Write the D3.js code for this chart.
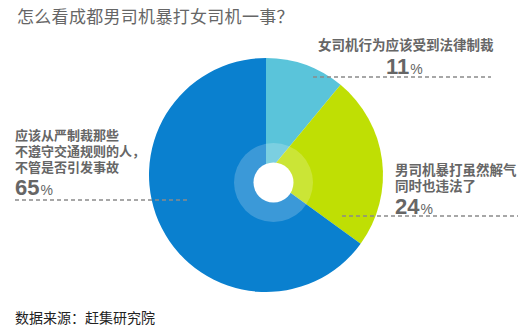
<!DOCTYPE html>
<html>
<head>
<meta charset="utf-8">
<script src="https://cdn.jsdelivr.net/npm/d3@7/dist/d3.min.js"></script>
<style>
  html, body { margin: 0; padding: 0; background: #fff; }
  svg { display: block; }
  text { font-family: "Noto Sans CJK SC", "Noto Sans", sans-serif; }
  text.lbl { font-family: "Liberation Sans", "Noto Sans CJK SC", sans-serif; }
</style>
</head>
<body>
<svg id="chart" width="522" height="333"></svg>
<script>
// Survey answers, in clockwise order from 12 o'clock
const categories = ["女司机行为应该受到法律制裁", "男司机暴打虽然解气同时也违法了", "应该从严制裁那些不遵守交通规则的人，不管是否引发事故"];
const values = [11, 24, 65];
const colors = ["#5ac4da", "#bfdf04", "#0a80cf"];
const labelLines = [
  ["女司机行为应该受到法律制裁"],
  ["男司机暴打虽然解气", "同时也违法了"],
  ["应该从严制裁那些", "不遵守交通规则的人，", "不管是否引发事故"]
];
const title = "怎么看成都男司机暴打女司机一事？";
const source = "数据来源：赶集研究院";

const svg = d3.select("#chart");
const cx = 266, cy = 175, radius = 117;

svg.append("text")
  .attr("x", 17).attr("y", 23)
  .attr("font-size", 17).attr("fill", "#666")
  .attr("letter-spacing", 0.3)
  .text(title);

const pie = d3.pie().sort(null).value(d => d)(values);
const arc = d3.arc().innerRadius(0).outerRadius(radius);

const g = svg.append("g").attr("transform", `translate(${cx},${cy})`);
g.selectAll("path").data(pie).join("path")
  .attr("d", arc)
  .attr("fill", (d, i) => colors[i]);

// translucent ring and white hub
const hub = svg.append("g").attr("transform", "translate(273.5,182.5)");
hub.append("circle").attr("r", 39.5).attr("fill", "#fff").attr("fill-opacity", 0.2);
hub.append("circle").attr("r", 20).attr("fill", "#fff");

// label blocks: anchor position, line height, font size, leader line extent
const labelLayout = [
  { x: 318, y: 50, lh: 16, fs: 13.5, pctX: 386, pctY: 74, lineY: 77, x1: 313, x2: 491 },
  { x: 395, y: 175, lh: 15.5, fs: 13.5, pctX: 395, pctY: 213.5, lineY: 216, x1: 342, x2: 518 },
  { x: 15, y: 140, lh: 16, fs: 13, pctX: 15, pctY: 195, lineY: 200, x1: 15, x2: 190 }
];

labelLayout.forEach((L, i) => {
  const grp = svg.append("g");
  grp.append("line")
    .attr("x1", L.x1).attr("x2", L.x2)
    .attr("y1", L.lineY).attr("y2", L.lineY)
    .attr("stroke", "#8a8a8a").attr("stroke-width", 1.3)
    .attr("stroke-dasharray", "4,3");
  labelLines[i].forEach((t, j) => {
    grp.append("text").attr("class", "lbl")
      .attr("x", L.x).attr("y", L.y + j * L.lh)
      .attr("font-size", L.fs).attr("font-weight", "bold")
      .attr("fill", "#666")
      .text(t);
  });
  const pt = grp.append("text").attr("class", "lbl")
    .attr("x", L.pctX).attr("y", L.pctY)
    .attr("fill", "#666");
  pt.append("tspan").attr("font-size", 22).attr("font-weight", "bold").text(values[i]);
  pt.append("tspan").attr("font-size", 14).attr("dx", 1).text("%");
});

svg.append("text")
  .attr("x", 15).attr("y", 323)
  .attr("font-size", 14).attr("fill", "#222")
  .text(source);
</script>
</body>
</html>
